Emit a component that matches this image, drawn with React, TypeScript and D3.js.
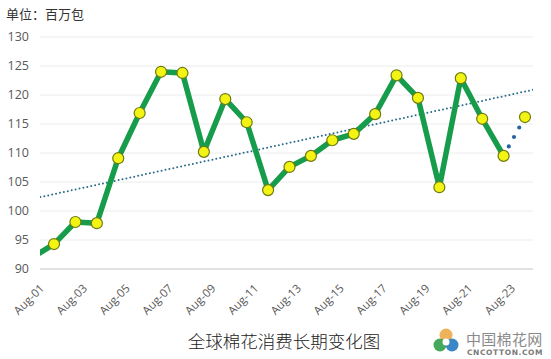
import { useEffect, useRef } from "react";
import * as d3 from "d3";

// marketing years, Aug-00 .. Aug-23 (last one is the projection)
const years = [
  "Aug-00", "Aug-01", "Aug-02", "Aug-03", "Aug-04", "Aug-05", "Aug-06", "Aug-07",
  "Aug-08", "Aug-09", "Aug-10", "Aug-11", "Aug-12", "Aug-13", "Aug-14", "Aug-15",
  "Aug-16", "Aug-17", "Aug-18", "Aug-19", "Aug-20", "Aug-21", "Aug-22", "Aug-23",
];
// world cotton consumption, million bales
const consumption = [
  92.0, 94.3, 98.1, 97.9, 109.1, 116.9, 124.0, 123.8, 110.2, 119.3, 115.3, 103.6,
  107.6, 109.5, 112.2, 113.3, 116.7, 123.4, 119.5, 104.1, 122.9, 115.9, 109.5, 116.2,
];
const projectedFrom = 22; // last actual year index; after that it is the forecast
const trendIdx = [0, 23.5];
const trendVals = [102.1, 121.0];
const yTicks = [90, 95, 100, 105, 110, 115, 120, 125, 130];
const xLabels = years.filter((_, i) => i % 2 === 1);

export default function App() {
  const ref = useRef<SVGSVGElement>(null);

  useEffect(() => {
    if (!ref.current) return;
    const svg = d3.select(ref.current);
    svg.selectAll("*").remove();

    const left = 40, right = 533;
    const x = d3.scaleLinear().domain([0, years.length - 1]).range([32.6, 525]);
    const y = d3.scaleLinear().domain([90, 130]).range([269, 37]);

    svg.append("defs").append("clipPath").attr("id", "plot")
      .append("rect").attr("x", left).attr("y", 20).attr("width", right - left).attr("height", 260);

    // grid
    svg.append("g").selectAll("line").data(yTicks).join("line")
      .attr("x1", left).attr("x2", right)
      .attr("y1", (d) => y(d)).attr("y2", (d) => y(d))
      .attr("stroke", (d) => (d === 90 ? "#d9d9d9" : "#ececec"))
      .attr("stroke-width", (d) => (d === 90 ? 1.5 : 1));

    // y labels
    svg.append("g").selectAll("text").data(yTicks).join("text")
      .attr("x", 29).attr("y", (d) => y(d)).attr("dy", "0.35em")
      .attr("text-anchor", "end")
      .attr("font-family", "'Open Sans', sans-serif").attr("font-size", 12.5)
      .attr("fill", "#595959")
      .text((d) => d);

    // x labels
    svg.append("g").selectAll("text").data(xLabels).join("text")
      .attr("text-anchor", "end")
      .attr("transform", (d) => `translate(${x(years.indexOf(d)) - 9},${289}) rotate(-45)`)
      .attr("font-family", "'Open Sans', sans-serif").attr("font-size", 11.5)
      .attr("fill", "#595959")
      .text((d) => d);

    const plot = svg.append("g").attr("clip-path", "url(#plot)");

    // trend line
    plot.append("line")
      .attr("x1", x(trendIdx[0])).attr("y1", y(trendVals[0]))
      .attr("x2", x(trendIdx[1])).attr("y2", y(trendVals[1]))
      .attr("stroke", "#2b6c8c").attr("stroke-width", 2)
      .attr("stroke-dasharray", "0 4").attr("stroke-linecap", "round");

    const pts = consumption.map((v, i) => [x(i), y(v)] as [number, number]);
    const line = d3.line();

    plot.append("path")
      .attr("d", line(pts.slice(0, projectedFrom + 1)))
      .attr("fill", "none").attr("stroke", "#169c4a").attr("stroke-width", 5.5)
      .attr("stroke-linejoin", "round");

    plot.append("path")
      .attr("d", line(pts.slice(projectedFrom)))
      .attr("fill", "none").attr("stroke", "#2a63a3").attr("stroke-width", 4.2)
      .attr("stroke-dasharray", "0 10.8").attr("stroke-linecap", "round");

    // markers (first year sits outside the visible area)
    svg.append("g").selectAll("circle").data(pts.slice(1)).join("circle")
      .attr("cx", (d) => d[0]).attr("cy", (d) => d[1]).attr("r", 5.5)
      .attr("fill", "#f4f414").attr("stroke", "#6e7b12").attr("stroke-width", 1.2);

    // unit + title
    svg.append("text").attr("x", 6).attr("y", 19)
      .attr("font-family", "'Noto Sans CJK SC', sans-serif").attr("font-size", 13)
      .attr("fill", "#333").text("单位：百万包");
    svg.append("text").attr("x", 284).attr("y", 348).attr("text-anchor", "middle")
      .attr("font-family", "'Noto Sans CJK SC', sans-serif").attr("font-size", 17.5)
      .attr("font-weight", 300).attr("fill", "#222").text("全球棉花消费长期变化图");

    // logo
    const logo = svg.append("g").attr("transform", "translate(446,341)");
    logo.append("circle").attr("cx", 0).attr("cy", -6).attr("r", 6.5).attr("fill", "#eeb25a");
    logo.append("circle").attr("cx", -6).attr("cy", 4).attr("r", 6.5).attr("fill", "#45a85a");
    logo.append("circle").attr("cx", 6).attr("cy", 4).attr("r", 6.5).attr("fill", "#3b86c4");
    logo.append("circle").attr("cx", 0).attr("cy", 1).attr("r", 3.5).attr("fill", "#fff");
    svg.append("text").attr("x", 466).attr("y", 345)
      .attr("font-family", "'Noto Sans CJK SC', sans-serif").attr("font-size", 15)
      .attr("fill", "#8a8a8a").attr("letter-spacing", 0.3).text("中国棉花网");
    svg.append("text").attr("x", 467).attr("y", 355)
      .attr("font-family", "'DejaVu Sans', sans-serif").attr("font-size", 7.5)
      .attr("font-weight", 700).attr("fill", "#7a7a7a").attr("letter-spacing", 0.6)
      .text("CNCOTTON.COM");
  }, []);

  return (
    <svg
      ref={ref}
      width={551}
      height={359}
      style={{ position: "absolute", left: 0, top: 0, background: "#fff" }}
    />
  );
}
